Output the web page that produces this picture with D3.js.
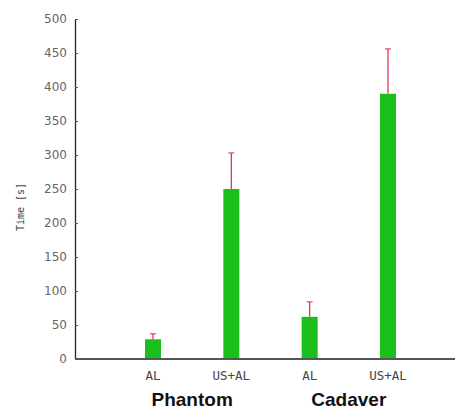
<!DOCTYPE html>
<html>
<head>
<meta charset="utf-8">
<script src="https://cdn.jsdelivr.net/npm/d3@7"></script>
<style>
  body { margin: 0; background: #fff; }
</style>
</head>
<body>
<div id="plot"></div>
<script>
// data
var groups   = ["Phantom", "Cadaver"];
var barLabel = ["AL", "US+AL", "AL", "US+AL"];
var times    = [29, 250, 62, 390];   // mean time [s]
var errTop   = [37, 303, 84, 456];   // upper end of error bar
var yTicks   = [0, 50, 100, 150, 200, 250, 300, 350, 400, 450, 500];

var width = 458, height = 411;
var margin = {top: 19, right: 3, bottom: 52, left: 75};

var svg = d3.select("#plot").append("svg")
    .attr("width", width)
    .attr("height", height);

var g = svg.append("g")
    .attr("transform", "translate(" + margin.left + "," + margin.top + ")");

var w = width - margin.left - margin.right;
var h = height - margin.top - margin.bottom;

var y_scale = d3.scaleLinear().domain([0, 500]).range([h, 0]);
// bar centres sit at 153, 231, 309, 388 px
var x_scale = d3.scaleLinear().domain([0, 3]).range([153 - margin.left, 388 - margin.left]);
var barW = 16;

// y axis
var yAxis = g.append("g")
    .call(d3.axisLeft(y_scale).tickValues(yTicks).tickSizeInner(-3).tickSizeOuter(0).tickPadding(8));
yAxis.select(".domain").attr("stroke", "#222").attr("stroke-width", 1.3);
yAxis.selectAll(".tick line").attr("stroke", "#555");
yAxis.selectAll("text")
    .attr("fill", "#666")
    .style("font-family", "DejaVu Sans, sans-serif")
    .style("font-size", "12px");

// bars
g.selectAll("rect.bar").data(times).enter().append("rect")
    .attr("class", "bar")
    .attr("x", function (d, i) { return x_scale(i) - barW / 2; })
    .attr("y", function (d) { return y_scale(d); })
    .attr("width", barW)
    .attr("height", function (d) { return h - y_scale(d); })
    .attr("fill", "#1bbf1b");

// error bars (upper half only)
g.selectAll("line.err").data(errTop).enter().append("line")
    .attr("class", "err")
    .attr("x1", function (d, i) { return x_scale(i); })
    .attr("x2", function (d, i) { return x_scale(i); })
    .attr("y1", function (d, i) { return y_scale(times[i]); })
    .attr("y2", function (d) { return y_scale(d); })
    .attr("stroke", "#e0284a")
    .attr("stroke-width", 1.2);
g.selectAll("line.cap").data(errTop).enter().append("line")
    .attr("class", "cap")
    .attr("x1", function (d, i) { return x_scale(i) - 3; })
    .attr("x2", function (d, i) { return x_scale(i) + 3; })
    .attr("y1", function (d) { return y_scale(d); })
    .attr("y2", function (d) { return y_scale(d); })
    .attr("stroke", "#e0284a")
    .attr("stroke-width", 1);

// x axis line
g.append("line")
    .attr("x1", 0).attr("x2", w)
    .attr("y1", h).attr("y2", h)
    .attr("stroke", "#555")
    .attr("stroke-width", 2);

// bar labels
g.selectAll("text.blab").data(barLabel).enter().append("text")
    .attr("class", "blab")
    .attr("x", function (d, i) { return x_scale(i); })
    .attr("y", h + 21)
    .attr("text-anchor", "middle")
    .attr("fill", "#444")
    .style("font-family", "DejaVu Sans Mono, monospace")
    .style("font-size", "12.5px")
    .text(function (d) { return d; });

// group labels
g.selectAll("text.glab").data(groups).enter().append("text")
    .attr("class", "glab")
    .attr("x", function (d, i) { return (x_scale(i * 2) + x_scale(i * 2 + 1)) / 2; })
    .attr("y", h + 47)
    .attr("text-anchor", "middle")
    .attr("fill", "#111")
    .style("font-family", "Liberation Sans, Arial, sans-serif")
    .style("font-weight", "bold")
    .style("font-size", "19px")
    .text(function (d) { return d; });

// y label
svg.append("text")
    .attr("transform", "translate(24,207) rotate(-90)")
    .attr("text-anchor", "middle")
    .attr("fill", "#444")
    .style("font-family", "DejaVu Sans Mono, monospace")
    .style("font-size", "10px")
    .text("Time [s]");
</script>
</body>
</html>
